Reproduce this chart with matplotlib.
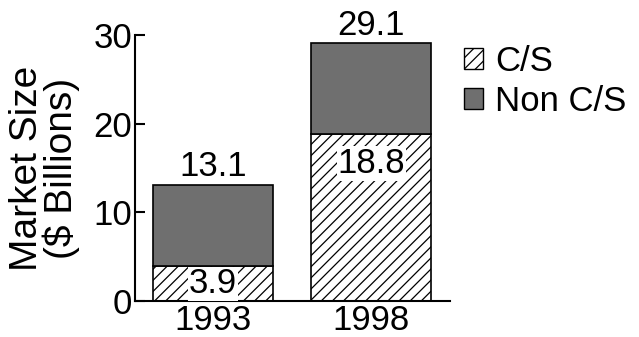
import matplotlib
matplotlib.use("Agg")
import matplotlib.pyplot as plt
from matplotlib.patches import Patch

plt.rcParams['font.family'] = ['Liberation Sans', 'DejaVu Sans']
plt.rcParams['hatch.linewidth'] = 0.9

years = ["1993", "1998"]
cs = [3.9, 18.8]
non_cs = [9.2, 10.3]
totals = [13.1, 29.1]
yticks = [0, 10, 20, 30]

fig = plt.figure(figsize=(6.39, 3.37), dpi=100)
ax = fig.add_axes([135/639, 1-301/337, (450-135)/639, (301-35)/337])

x = [0, 1]
w = 0.76
dark = '#6f6f6f'
ax.bar(x, cs, w, color='white', edgecolor='black', hatch='///', linewidth=1.2)
ax.bar(x, non_cs, w, bottom=cs, color=dark, edgecolor='black', linewidth=1.2)

fs = 25
for xi, t in zip(x, totals):
    ax.annotate(f"{t}", (xi, t), xytext=(0, 1), textcoords='offset points',
                ha='center', va='bottom', fontsize=fs)
ax.text(x[0], cs[0]/2, f"{cs[0]}", ha='center', va='center', fontsize=fs,
        bbox=dict(facecolor='white', edgecolor='none', pad=0.5))
ax.annotate(f"{cs[1]}", (x[1], cs[1]), xytext=(0, -9), textcoords='offset points',
            ha='center', va='top', fontsize=fs,
            bbox=dict(facecolor='white', edgecolor='none', pad=0.5))

ax.set_xlim(-0.494, 1.5)
ax.set_ylim(0, 30)
ax.set_yticks(yticks)
ax.set_xticks(x)
ax.set_xticklabels(years)
ax.tick_params(axis='y', direction='in', length=7, width=1.5, labelsize=fs, pad=2)
ax.tick_params(axis='x', length=0, labelsize=fs, pad=2)
for s in ['top', 'right']:
    ax.spines[s].set_visible(False)
ax.spines['left'].set_linewidth(1.5)
ax.spines['bottom'].set_linewidth(1.5)
ax.set_ylabel("Market Size\n($ Billions)", fontsize=28, linespacing=0.9, labelpad=10)

handles = [Patch(facecolor='white', edgecolor='black', hatch='///', label='C/S'),
           Patch(facecolor=dark, edgecolor='black', label='Non C/S')]
fig.legend(handles=handles, loc='upper left', bbox_to_anchor=(464/639, 1-45/337),
           frameon=False, fontsize=fs, handlelength=0.55, handleheight=0.55,
           handletextpad=0.35, labelspacing=0.2, borderaxespad=0, borderpad=0)

fig.savefig("out.png", dpi=100)
